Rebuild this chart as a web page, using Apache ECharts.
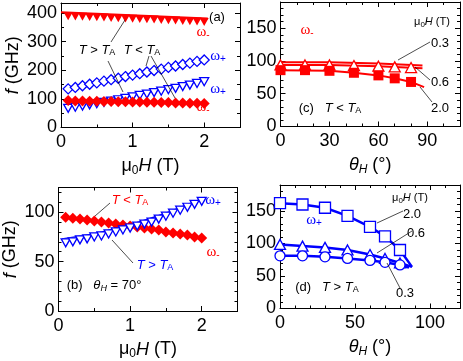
<!DOCTYPE html>
<html><head><meta charset="utf-8">
<script src="https://cdn.jsdelivr.net/npm/echarts@6/dist/echarts.min.js"></script>
<style>html,body{margin:0;padding:0;background:#fff}#c{width:463px;height:361px}</style>
</head><body><div id="c"></div>
<script>
// ---------- data ----------
const fieldA = [0.1,0.2,0.3,0.4,0.5,0.6,0.7,0.8,0.9,1.0,1.1,1.2,1.3,1.4,1.5,1.6,1.7,1.8,1.9,2.0];
// panel (a)
const aRedTri  = [389,388,387,386,385,384,383,382,381,380,379,378,377,376,375,374,372,371,370,369];
const aBlueDia = [135,140,146,151,156,162,167,172,178,183,188,194,199,204,210,215,220,225,231,236];
const aBlueTri = [67,71,75,79,83,88,92,97,102,107,112,117,122,127,132,137,143,148,154,160];
const aRedDia  = [94,93,93,92,92,91,91,90,90,89,89,88,88,87,87,86,86,85,85,84];
const aRedLine = [[0,403],[2.05,381]];
const aBlueLine = [[0.05,78],[0.5,90],[1.0,113],[1.5,140],[2.05,170]];
// panel (b)
const bRedDia  = [95,94,93,92,91,90,89,88,87,86,85,84,83,82,80,79,78,77,75,74];
const bBlueTri = [69,70,72,73,75,76,78,80,82,84,86,88,90,93,96,99,102,105,108,111];
const bBlueLine = [[0.05,73],[0.5,78],[1.0,87],[1.5,99],[2.05,115]];
// panel (c)
const theta = [0,15,30,45,60,70,80];
const cTri06 = [94,94,94,93,92,91,90];
const cSq20  = [86,86,85,82,78,73.5,68];
const cLine03 = [[0,98],[30,98],[60,96],[87,93]];
const cLine06 = [[0,94],[30,94],[60,92],[87,89]];
const cLine20 = [[0,86],[30,85],[45,82],[60,78],[70,73.5],[80,68],[88,60]];
// panel (d)
const dSq20  = [162,160,155,142.5,125.5,111,90];
const dTri06 = [98.5,96,94,90,83,77,70];
const dCir03 = [81,81,79.5,77,74,71,67];
const dLine20 = [[0,162],[15,160],[30,155],[45,142.5],[60,125.5],[70,111],[80,90],[88,64]];
const dLine06 = [[0,98.5],[15,96],[30,94],[45,90],[60,83],[70,77],[80,70],[88,64]];
const dLine03 = [[0,81],[15,81],[30,79.5],[45,77],[60,74],[70,71],[80,67],[86,63]];

// ---------- helpers ----------
const RED = '#ff0000', BLUE = '#0000ff';
const FONT = 'Liberation Sans, Arial, sans-serif';
function pairs(xs, ys){ return xs.map((x,i)=>[x, ys[i]]); }
const richAx = {
  n:{fontSize:18,fontFamily:FONT,color:'#000'},
  i:{fontSize:18,fontFamily:FONT,fontStyle:'italic',color:'#000'},
  s:{fontSize:12,fontFamily:FONT,color:'#000',padding:[9,0,0,0]},
  si:{fontSize:12,fontFamily:FONT,fontStyle:'italic',color:'#000',padding:[9,0,0,0]}
};
function xAx(grid, max, interval, minor, pos, name, gap){
  const main = pos==='bottom';
  return {type:'value', gridIndex:grid, position:pos, min:0, max:max, interval:interval,
    axisLine:{onZero:false, lineStyle:{color:'#000',width:1}},
    axisTick:{show:true, inside:true, length:5, lineStyle:{color:'#000'}},
    minorTick:{show:true, splitNumber:minor, length:3, lineStyle:{color:'#000'}},
    splitLine:{show:false},
    axisLabel:{show:main, fontSize:18, fontFamily:FONT, color:'#000', margin:6,
      formatter:v=> (Math.abs(v/interval - Math.round(v/interval))<1e-6 && v<max-1e-9) ? String(v) : ''},
    name: main? name : '', nameLocation:'middle', nameGap:gap,
    nameTextStyle:{rich:richAx, fontSize:18, fontFamily:FONT, color:'#000'}
  };
}
function yAx(grid, max, interval, minor, pos, name, gap){
  const main = pos==='left';
  return {type:'value', gridIndex:grid, position:pos, min:0, max:max, interval:interval,
    axisLine:{onZero:false, lineStyle:{color:'#000',width:1}},
    axisTick:{show:true, inside:true, length:5, lineStyle:{color:'#000'}},
    minorTick:{show:true, splitNumber:minor, length:3, lineStyle:{color:'#000'}},
    splitLine:{show:false},
    axisLabel:{show:main, fontSize:18, fontFamily:FONT, color:'#000', margin:4,
      formatter:v=> (Math.abs(v/interval - Math.round(v/interval))<1e-6 && v<max-1e-9) ? String(v) : ''},
    name: main? name : '', nameLocation:'middle', nameGap:gap,
    nameTextStyle:{rich:richAx, fontSize:18, fontFamily:FONT, color:'#000'}
  };
}
const muH = '{n|μ}{s|0}{i|H}{n| (T)}';
const thH = '{i|θ}{si|H}{n| (°)}';
const fG  = '{i|f}{n| (GHz)}';

const grids = [
  {left:61, top:3, width:179, height:124.5},
  {left:280.5, top:2, width:180.5, height:124.5},
  {left:58.5, top:187.5, width:179, height:123.5},
  {left:280, top:185, width:181, height:123.5}
];
const xAxes = [
  xAx(0,2.5,1,2,'bottom',muH,28), xAx(0,2.5,1,2,'top','',0),
  xAx(1,110,30,3,'bottom',thH,28), xAx(1,110,30,3,'top','',0),
  xAx(2,2.5,1,2,'bottom',muH,28), xAx(2,2.5,1,2,'top','',0),
  xAx(3,120,50,5,'bottom',thH,28), xAx(3,120,50,5,'top','',0)
];
const yAxes = [
  yAx(0,435,100,2,'left',fG,39), yAx(0,435,100,2,'right','',0),
  yAx(1,190,50,5,'left','',0), yAx(1,190,50,5,'right','',0),
  yAx(2,125,50,5,'left',fG,39), yAx(2,125,50,5,'right','',0),
  yAx(3,190,50,5,'left','',0), yAx(3,190,50,5,'right','',0)
];

function sc(axX, axY, data, symbol, size, color, filled, rot){
  return {type:'scatter', xAxisIndex:axX, yAxisIndex:axY, data:data, symbol:symbol,
    symbolSize:size, symbolRotate:rot||0, z:5,
    itemStyle:{color: filled?color:'#fff', borderColor:color, borderWidth: filled?0:1.3, opacity:1}};
}
function ln(axX, axY, data, color, w){
  return {type:'line', xAxisIndex:axX, yAxisIndex:axY, data:data, showSymbol:false, symbol:'none',
    lineStyle:{color:color, width:w}, z:3, silent:true};
}
const series = [
  // (a)
  ln(0,0,aRedLine,RED,2), sc(0,0,pairs(fieldA,aRedTri),'triangle',[9,8],RED,true,180),
  sc(0,0,pairs(fieldA,aBlueDia),'diamond',[10,10],BLUE,false),
  ln(0,0,aBlueLine,BLUE,1.5), sc(0,0,pairs(fieldA,aBlueTri),'triangle',[9,8],BLUE,false,180),
  sc(0,0,pairs(fieldA,aRedDia),'diamond',[11,11],RED,true),
  // (c)
  ln(2,2,cLine03,RED,2), ln(2,2,cLine06,RED,2), ln(2,2,cLine20,RED,2),
  sc(2,2,pairs(theta,cTri06),'triangle',[11,10],RED,false),
  sc(2,2,pairs(theta,cSq20),'rect',[10,10],RED,true),
  // (b)
  sc(4,4,pairs(fieldA,bRedDia),'diamond',[11,11],RED,true),
  ln(4,4,bBlueLine,BLUE,1.5), sc(4,4,pairs(fieldA,bBlueTri),'triangle',[9,8],BLUE,false,180),
  // (d)
  ln(6,6,dLine20,BLUE,2.5), ln(6,6,dLine06,BLUE,2.5), ln(6,6,dLine03,BLUE,2.5),
  sc(6,6,pairs(theta,dSq20),'rect',[11,11],BLUE,false),
  sc(6,6,pairs(theta,dTri06),'triangle',[11,10],BLUE,false),
  sc(6,6,pairs(theta,dCir03),'circle',[10,10],BLUE,false)
];

// ---------- annotations ----------
const rich = {
  n:{fontSize:13,fontFamily:FONT},
  i:{fontSize:13,fontFamily:FONT,fontStyle:'italic'},
  sb:{fontSize:9,fontFamily:FONT,padding:[6,0,0,0]},
  sbi:{fontSize:9,fontFamily:FONT,fontStyle:'italic',padding:[6,0,0,0]},
  w:{fontSize:15,fontFamily:'Liberation Serif, Times New Roman, serif'},
  ws:{fontSize:10,fontFamily:FONT,padding:[7,0,0,0]},
  m:{fontSize:11,fontFamily:FONT},
  ms:{fontSize:8,fontFamily:FONT,padding:[5,0,0,0]},
  mi:{fontSize:11,fontFamily:FONT,fontStyle:'italic'}
};
function T(x,y,text,color,align){
  return {type:'text', x:x, y:y, z:20, style:{text:text, fill:color||'#000', align:align||'center',
    verticalAlign:'middle', rich:rich, font:'13px '+FONT}};
}
function L(x1,y1,x2,y2){
  return {type:'line', z:20, shape:{x1,y1,x2,y2}, style:{stroke:'#000', lineWidth:0.7}};
}
const graphic = [
  // (a)
  T(217,17,'{n|(a)}'),
  T(203,32,'{w|ω}{ws|-}',RED), T(218,56,'{w|ω}{ws|+}',BLUE),
  T(218,89,'{w|ω}{ws|+}',BLUE), T(203,107,'{w|ω}{ws|-}',RED),
  T(97,50,'{i|T} {n|>} {i|T}{sb|A}'), T(142,50,'{i|T} {n|<} {i|T}{sb|A}'),
  L(125,20,111,42), L(108,61,123,92), L(149,56,146,66), L(151,56,175,98),
  // (b)
  T(130,200,'{i|T} {n|<} {i|T}{sb|A}',RED), L(110,203,95,216),
  T(155,265,'{i|T} {n|>} {i|T}{sb|A}',BLUE), L(133,263,112,240),
  T(213,200,'{w|ω}{ws|+}',BLUE), T(213,252,'{w|ω}{ws|-}',RED),
  T(104,285,'{n|(b)}   {i|θ}{sbi|H}{n| = 70°}'),
  // (c)
  T(307,30,'{w|ω}{ws|-}',RED),
  T(432,22,'{m|μ}{ms|0}{mi|H}{m| (T)}'),
  T(440,43,'{n|0.3}'), T(440,82,'{n|0.6}'), T(440,108,'{n|2.0}'),
  L(398,60,430,42), L(415,67,430,80), L(420,87,432,102),
  T(330,108,'{n|(c)}   {i|T} {n|<} {i|T}{sb|A}'),
  // (d)
  T(410,198,'{m|μ}{ms|0}{mi|H}{m| (T)}'),
  T(412,214,'{n|2.0}'), T(416,233,'{n|0.6}'), T(405,293,'{n|0.3}'),
  L(377,223,403,211), L(377,253,412,231), L(387,263,400,288),
  T(314,220,'{w|ω}{ws|+}',BLUE),
  T(327,287,'{n|(d)}   {i|T} {n|>} {i|T}{sb|A}')
];

const chart = echarts.init(document.getElementById('c'), null, {renderer:'canvas'});
chart.setOption({animation:false, backgroundColor:'#fff', grid:grids, xAxis:xAxes, yAxis:yAxes, series:series, graphic:graphic});
</script></body></html>
